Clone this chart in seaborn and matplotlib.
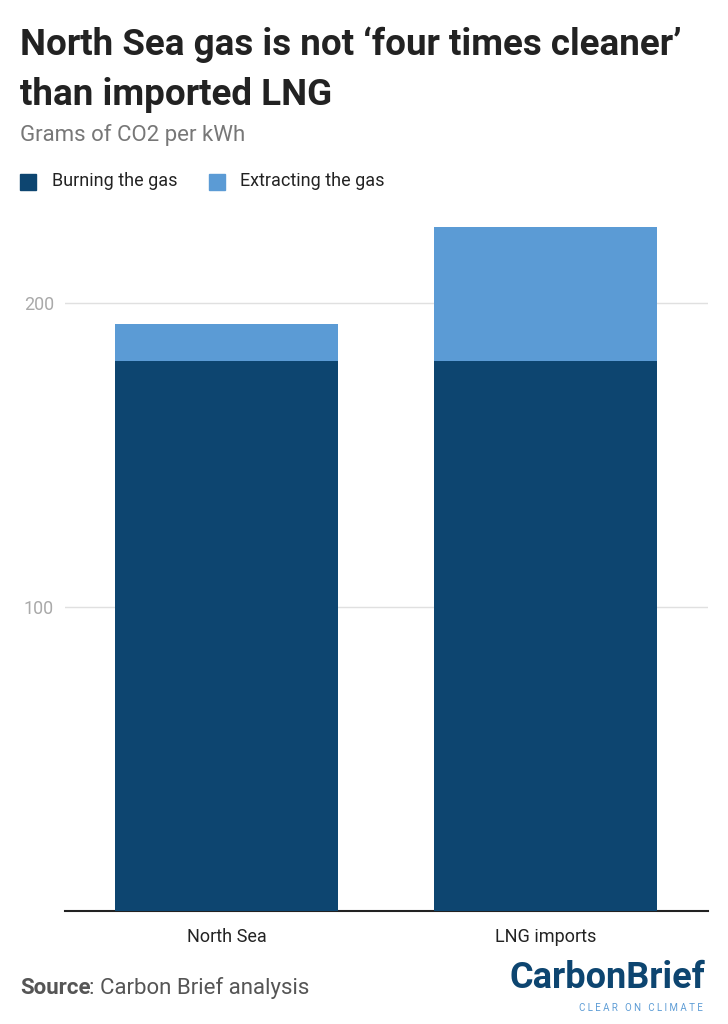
import matplotlib
matplotlib.use("Agg")
import matplotlib.pyplot as plt
import seaborn as sns
import pandas as pd

categories = ["North Sea", "LNG imports"]
burning = [181, 181]
extracting = [12, 44]
yticks = [100, 200]

W, H = 728, 1024
fig = plt.figure(figsize=(W/100, H/100), dpi=100)
ax = fig.add_axes([65/W, 1-911/H, (708-65)/W, (911-215)/H])
sns.set_style("white")
totals = [b + e for b, e in zip(burning, extracting)]
df = pd.DataFrame({"cat": categories, "total": totals, "burn": burning})
sns.barplot(data=df, x="cat", y="total", color="#5b9bd5", width=0.7, ax=ax, saturation=1, zorder=3, linewidth=0)
sns.barplot(data=df, x="cat", y="burn", color="#0d4570", width=0.7, ax=ax, saturation=1, zorder=3, linewidth=0)
ax.set_ylim(0, 229)
ax.set_xlim(-0.506, 1.509)
ax.set_yticks(yticks)
ax.set_yticklabels([str(t) for t in yticks], fontsize=13, color="#aaaaaa", family="Roboto")
ax.yaxis.grid(True, color="#e0e0e0", lw=1, zorder=0)
ax.tick_params(axis="y", length=0, pad=8)
ax.tick_params(axis="x", length=0, pad=12, labelsize=13)
for l in ax.get_xticklabels():
    l.set_family("Roboto"); l.set_color("#222222")
ax.set_xlabel(""); ax.set_ylabel("")
for s in ["top", "right", "left"]:
    ax.spines[s].set_visible(False)
ax.spines["bottom"].set_color("#222222"); ax.spines["bottom"].set_linewidth(1.5)

fig.text(20/W, 1-45/H, "North Sea gas is not \u2018four times cleaner\u2019", fontsize=26.5, weight="bold",
         family="Roboto", va="center", color="#222222")
fig.text(20/W, 1-95/H, "than imported LNG", fontsize=26.5, weight="bold",
         family="Roboto", va="center", color="#222222")
fig.text(20/W, 1-135/H, "Grams of CO2 per kWh", fontsize=16, family="Roboto", color="#777777", va="center")
fig.patches.append(plt.Rectangle((20/W, 1-190/H), 16/W, 16/H, color="#0d4570", transform=fig.transFigure))
fig.text(52/W, 1-181/H, "Burning the gas", fontsize=13, family="Roboto", color="#222222", va="center")
fig.patches.append(plt.Rectangle((209/W, 1-190/H), 16/W, 16/H, color="#5b9bd5", transform=fig.transFigure))
fig.text(240/W, 1-181/H, "Extracting the gas", fontsize=13, family="Roboto", color="#222222", va="center")
t = fig.text(20/W, 1-988/H, "Source", fontsize=16, weight="bold", family="Roboto", color="#555555", va="center")
fig.text(89/W, 1-988/H, ": Carbon Brief analysis", fontsize=16, family="Roboto", color="#555555", va="center")
fig.text(705/W, 1-978/H, "CarbonBrief", fontsize=26, weight="bold", family="Roboto", color="#0d4570", ha="right", va="center")
fig.text(703/W, 1-1008/H, "C L E A R   O N   C L I M A T E", fontsize=7, family="Roboto", color="#5b9bd5", ha="right", va="center")
fig.savefig("out.png", dpi=100)
